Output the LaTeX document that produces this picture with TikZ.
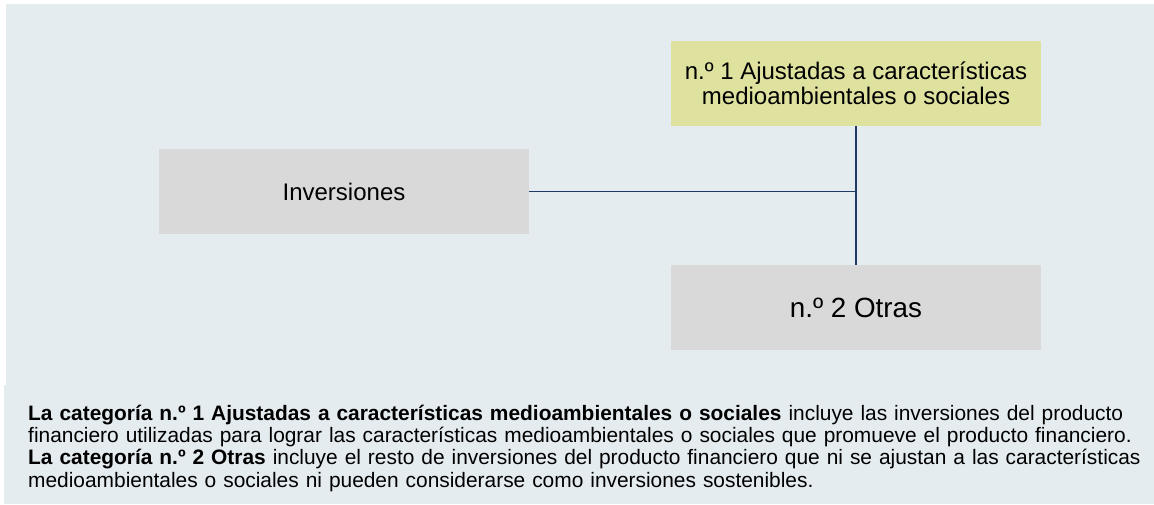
\documentclass[tikz,border=0pt]{standalone}
\usepackage{fontspec}
\setmainfont{Liberation Sans}
\usepackage{tikz}
\usetikzlibrary{positioning,calc}

\definecolor{panelbg}{RGB}{228,236,240}
\definecolor{catyellow}{RGB}{223,226,159}
\definecolor{boxgrey}{RGB}{217,217,217}
\definecolor{linknavy}{RGB}{31,56,100}

\newcommand{\notefont}{\fontsize{20.9}{22.4}\selectfont\hyphenpenalty 10000\relax}

\begin{document}
\begin{tikzpicture}[
    x=1pt, y=-1pt,
    box/.style={rectangle, inner sep=0pt, minimum width=370pt, minimum height=85pt, align=center},
    invbox/.style={box, fill=boxgrey, font=\fontsize{24}{26}\selectfont},
    cat/.style={box, fill=catyellow, font=\fontsize{24}{24.5}\selectfont},
    otherbox/.style={box, fill=boxgrey, font=\fontsize{27.8}{30}\selectfont},
    link/.style={draw=linknavy, line width=1.4pt},
    note/.style={anchor=base west, inner sep=0pt, text width=1124pt, align=left, font=\notefont}
]
\useasboundingbox (0,0) rectangle (1154,504);

% Background panels
\fill[panelbg] (6,4) rectangle (1154,386);
\fill[panelbg] (4,385) rectangle (1154,504);

% Main components
\node[invbox] (inv) at (344,191.5) {Inversiones};
\node[cat] (cat1) at (856,83.5) {n.º 1 Ajustadas a características\\medioambientales o sociales};
\node[otherbox] (cat2) at (856,307.5) {n.º 2 Otras};

% Connectors
\coordinate (split) at (inv.east -| cat1.south);
\draw[link] (inv.east) -- (split);
\draw[link] (cat1.south) -- (cat2.north);

% Explanation
\node[note] (expl) at (28,420) {\textbf{La categoría n.º 1 Ajustadas a características medioambientales o sociales} incluye las inversiones del producto\\
financiero utilizadas para lograr las características medioambientales o sociales que promueve el producto financiero.\\
\textbf{La categoría n.º 2 Otras} incluye el resto de inversiones del producto financiero que ni se ajustan a las características\\
medioambientales o sociales ni pueden considerarse como inversiones sostenibles.};
\end{tikzpicture}
\end{document}
